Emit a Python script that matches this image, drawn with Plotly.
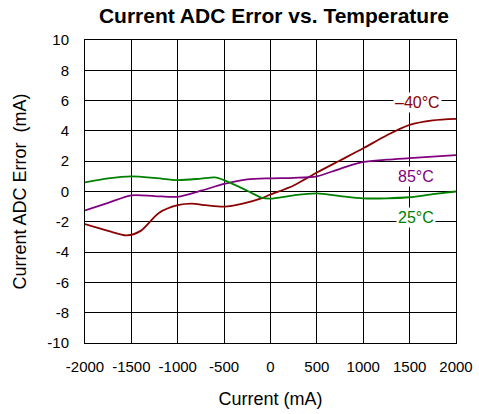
import plotly.graph_objects as go

# readings (current in mA, error in mA)
current = [-2000, -1750, -1550, -1400, -1200, -1000, -850, -700, -500, -300, -100,
           0, 250, 500, 750, 1000, 1250, 1500, 1750, 2000]
err_m40 = [-2.15, -2.6, -2.9, -2.6, -1.4, -0.9, -0.8, -0.9, -1.0, -0.8, -0.45,
           -0.2, 0.4, 1.25, 2.05, 2.85, 3.7, 4.4, 4.7, 4.8]

current_85 = [-2000, -1750, -1500, -1250, -1000, -750, -500, -250, 0, 250, 500,
              750, 1000, 1250, 1500, 1750, 2000]
err_85 = [-1.25, -0.75, -0.25, -0.3, -0.35, 0.05, 0.5, 0.8, 0.87, 0.9, 1.0,
          1.5, 1.95, 2.1, 2.2, 2.3, 2.4]

current_25 = [-2000, -1750, -1500, -1250, -1000, -750, -600, -500, -250, -100, 0,
              250, 500, 750, 1000, 1250, 1500, 1750, 2000]
err_25 = [0.6, 0.87, 1.0, 0.9, 0.75, 0.85, 0.93, 0.75, 0.05, -0.4, -0.47,
          -0.25, -0.13, -0.3, -0.45, -0.45, -0.38, -0.18, 0.0]

x_ticks = list(range(-2000, 2001, 500))
y_ticks = list(range(-10, 11, 2))

series = [
    ("\u201340\u00b0C", current, err_m40, "#8b0000", 1580, 5.85),
    ("85\u00b0C", current_85, err_85, "#800080", 1570, 1.0),
    ("25\u00b0C", current_25, err_25, "#008000", 1570, -1.7),
]

font = "Liberation Sans, Arial, sans-serif"

fig = go.Figure()
for name, xs, ys, color, lx, ly in series:
    fig.add_trace(go.Scatter(x=xs, y=ys, mode="lines", name=name,
                             line=dict(color=color, width=1.8, shape="spline", smoothing=0.8)))
    fig.add_annotation(x=lx, y=ly, text=name, showarrow=False,
                       font=dict(family=font, size=16, color=color),
                       bgcolor="white", borderpad=1)

fig.update_layout(
    width=479, height=414,
    margin=dict(l=85, r=23, t=40, b=71),
    paper_bgcolor="white", plot_bgcolor="white",
    showlegend=False,
    font=dict(family=font, color="black"),
    title=dict(text="<b>Current ADC Error vs. Temperature</b>",
               x=274 / 479, xanchor="center", y=1 - 16 / 414, yanchor="middle",
               font=dict(family=font, size=21, color="black")),
)
fig.update_xaxes(range=[-2000, 2000], tickvals=x_ticks, ticktext=[str(v) for v in x_ticks],
                 showgrid=True, gridcolor="black", gridwidth=1,
                 showline=True, linecolor="black", linewidth=1, mirror=True,
                 zeroline=False, ticks="", ticklabelstandoff=10, automargin=False,
                 tickfont=dict(size=15),
                 title=dict(text="Current (mA)", font=dict(size=18), standoff=18))
fig.update_yaxes(range=[-10, 10], tickvals=y_ticks, ticktext=[str(v) for v in y_ticks],
                 showgrid=True, gridcolor="black", gridwidth=1,
                 showline=True, linecolor="black", linewidth=1, mirror=True,
                 zeroline=False, ticks="", ticklabelstandoff=12, automargin=False,
                 tickfont=dict(size=15),
                 title=dict(text="Current ADC Error  (mA)", font=dict(size=18), standoff=16))

# drop the browser's default page margin so the figure sits at the window corner
fig.write_html("out.html", config={"displayModeBar": False},
               post_script="document.body.style.margin = '0';")
